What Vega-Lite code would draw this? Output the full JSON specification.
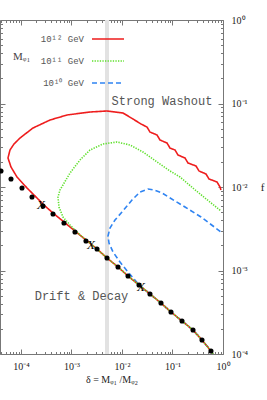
{
  "$schema": "https://vega.github.io/schema/vega-lite/v6.json",
  "width": 223,
  "height": 334,
  "autosize": {"type": "none"},
  "padding": {"left": 0, "top": 20, "right": 44, "bottom": 46},
  "background": "white",
  "config": {
    "view": {"stroke": null},
    "axis": {"grid": false, "domainColor": "#777", "tickColor": "#777", "labelFont": "Liberation Serif", "labelFontSize": 10, "labelColor": "#222", "titleFont": "Liberation Serif", "titleFontWeight": "normal", "titleColor": "#222", "labelOverlap": false, "labelFlush": false, "labelBound": false}
  },
  "datasets": {
    "curves": [
      {"series": "10¹⁰ GeV", "i": 1, "d": 0.634, "f": 0.0001},
      {"series": "10¹⁰ GeV", "i": 2, "d": 0.578, "f": 0.0001086},
      {"series": "10¹⁰ GeV", "i": 3, "d": 0.3837, "f": 0.0001471},
      {"series": "10¹⁰ GeV", "i": 4, "d": 0.2547, "f": 0.0001938},
      {"series": "10¹⁰ GeV", "i": 5, "d": 0.1542, "f": 0.0002484},
      {"series": "10¹⁰ GeV", "i": 6, "d": 0.0933, "f": 0.0003184},
      {"series": "10¹⁰ GeV", "i": 7, "d": 0.05916, "f": 0.0004082},
      {"series": "10¹⁰ GeV", "i": 8, "d": 0.03581, "f": 0.0005231},
      {"series": "10¹⁰ GeV", "i": 9, "d": 0.02173, "f": 0.0006705},
      {"series": "10¹⁰ GeV", "i": 10, "d": 0.01728, "f": 0.0007911},
      {"series": "10¹⁰ GeV", "i": 11, "d": 0.01315, "f": 0.0009594},
      {"series": "10¹⁰ GeV", "i": 12, "d": 0.00913, "f": 0.001264},
      {"series": "10¹⁰ GeV", "i": 13, "d": 0.006635, "f": 0.001666},
      {"series": "10¹⁰ GeV", "i": 14, "d": 0.005529, "f": 0.002135},
      {"series": "10¹⁰ GeV", "i": 15, "d": 0.005283, "f": 0.002589},
      {"series": "10¹⁰ GeV", "i": 16, "d": 0.005786, "f": 0.003228},
      {"series": "10¹⁰ GeV", "i": 17, "d": 0.007266, "f": 0.004025},
      {"series": "10¹⁰ GeV", "i": 18, "d": 0.01, "f": 0.005018},
      {"series": "10¹⁰ GeV", "i": 19, "d": 0.01578, "f": 0.006986},
      {"series": "10¹⁰ GeV", "i": 20, "d": 0.02272, "f": 0.008714},
      {"series": "10¹⁰ GeV", "i": 21, "d": 0.03272, "f": 0.009463},
      {"series": "10¹⁰ GeV", "i": 22, "d": 0.04302, "f": 0.009207},
      {"series": "10¹⁰ GeV", "i": 23, "d": 0.06195, "f": 0.008477},
      {"series": "10¹⁰ GeV", "i": 24, "d": 0.1121, "f": 0.006796},
      {"series": "10¹⁰ GeV", "i": 25, "d": 0.1768, "f": 0.005761},
      {"series": "10¹⁰ GeV", "i": 26, "d": 0.3668, "f": 0.004372},
      {"series": "10¹⁰ GeV", "i": 27, "d": 0.913, "f": 0.002891},

      {"series": "10¹² GeV", "i": 1, "d": 0.634, "f": 0.0001},
      {"series": "10¹² GeV", "i": 2, "d": 0.578, "f": 0.0001086},
      {"series": "10¹² GeV", "i": 3, "d": 0.3837, "f": 0.0001471},
      {"series": "10¹² GeV", "i": 4, "d": 0.2547, "f": 0.0001938},
      {"series": "10¹² GeV", "i": 5, "d": 0.1542, "f": 0.0002484},
      {"series": "10¹² GeV", "i": 6, "d": 0.0933, "f": 0.0003184},
      {"series": "10¹² GeV", "i": 7, "d": 0.05916, "f": 0.0004082},
      {"series": "10¹² GeV", "i": 8, "d": 0.03581, "f": 0.0005231},
      {"series": "10¹² GeV", "i": 9, "d": 0.02173, "f": 0.0006705},
      {"series": "10¹² GeV", "i": 10, "d": 0.01315, "f": 0.0008594},
      {"series": "10¹² GeV", "i": 11, "d": 0.008337, "f": 0.001102},
      {"series": "10¹² GeV", "i": 12, "d": 0.005047, "f": 0.001411},
      {"series": "10¹² GeV", "i": 13, "d": 0.003199, "f": 0.001809},
      {"series": "10¹² GeV", "i": 14, "d": 0.001936, "f": 0.002319},
      {"series": "10¹² GeV", "i": 15, "d": 0.001172, "f": 0.002972},
      {"series": "10¹² GeV", "i": 16, "d": 0.00071, "f": 0.003809},
      {"series": "10¹² GeV", "i": 17, "d": 0.0004305, "f": 0.004882},
      {"series": "10¹² GeV", "i": 18, "d": 0.0002988, "f": 0.005922},
      {"series": "10¹² GeV", "i": 19, "d": 0.0002074, "f": 0.007383},
      {"series": "10¹² GeV", "i": 20, "d": 0.0001315, "f": 0.00973},
      {"series": "10¹² GeV", "i": 21, "d": 0.00008333, "f": 0.01318},
      {"series": "10¹² GeV", "i": 22, "d": 0.0000634, "f": 0.01736},
      {"series": "10¹² GeV", "i": 23, "d": 0.00005529, "f": 0.02225},
      {"series": "10¹² GeV", "i": 24, "d": 0.00006056, "f": 0.02774},
      {"series": "10¹² GeV", "i": 25, "d": 0.00007266, "f": 0.03273},
      {"series": "10¹² GeV", "i": 26, "d": 0.00009555, "f": 0.03862},
      {"series": "10¹² GeV", "i": 27, "d": 0.0001728, "f": 0.05088},
      {"series": "10¹² GeV", "i": 28, "d": 0.0003752, "f": 0.06344},
      {"series": "10¹² GeV", "i": 29, "d": 0.0008146, "f": 0.07283},
      {"series": "10¹² GeV", "i": 30, "d": 0.002324, "f": 0.07911},
      {"series": "10¹² GeV", "i": 31, "d": 0.005047, "f": 0.08133},
      {"series": "10¹² GeV", "i": 32, "d": 0.01047, "f": 0.07695},
      {"series": "10¹² GeV", "i": 33, "d": 0.01651, "f": 0.06522},
      {"series": "10¹² GeV", "i": 34, "d": 0.02377, "f": 0.05681},
      {"series": "10¹² GeV", "i": 35, "d": 0.03126, "f": 0.0523},
      {"series": "10¹² GeV", "i": 36, "d": 0.03581, "f": 0.04557},
      {"series": "10¹² GeV", "i": 37, "d": 0.04934, "f": 0.04196},
      {"series": "10¹² GeV", "i": 38, "d": 0.05655, "f": 0.03655},
      {"series": "10¹² GeV", "i": 39, "d": 0.07782, "f": 0.03365},
      {"series": "10¹² GeV", "i": 40, "d": 0.08923, "f": 0.02931},
      {"series": "10¹² GeV", "i": 41, "d": 0.1121, "f": 0.02774},
      {"series": "10¹² GeV", "i": 42, "d": 0.1285, "f": 0.02416},
      {"series": "10¹² GeV", "i": 43, "d": 0.1768, "f": 0.02225},
      {"series": "10¹² GeV", "i": 44, "d": 0.2027, "f": 0.01939},
      {"series": "10¹² GeV", "i": 45, "d": 0.292, "f": 0.01785},
      {"series": "10¹² GeV", "i": 46, "d": 0.3348, "f": 0.01556},
      {"series": "10¹² GeV", "i": 47, "d": 0.4607, "f": 0.01431},
      {"series": "10¹² GeV", "i": 48, "d": 0.5283, "f": 0.01247},
      {"series": "10¹² GeV", "i": 49, "d": 0.7606, "f": 0.01148},
      {"series": "10¹² GeV", "i": 50, "d": 0.8721, "f": 0.01},
      {"series": "10¹² GeV", "i": 51, "d": 0.913, "f": 0.009207},

      {"series": "10¹¹ GeV", "i": 1, "d": 0.634, "f": 0.0001},
      {"series": "10¹¹ GeV", "i": 2, "d": 0.578, "f": 0.0001086},
      {"series": "10¹¹ GeV", "i": 3, "d": 0.3837, "f": 0.0001471},
      {"series": "10¹¹ GeV", "i": 4, "d": 0.2547, "f": 0.0001938},
      {"series": "10¹¹ GeV", "i": 5, "d": 0.1542, "f": 0.0002484},
      {"series": "10¹¹ GeV", "i": 6, "d": 0.0933, "f": 0.0003184},
      {"series": "10¹¹ GeV", "i": 7, "d": 0.05916, "f": 0.0004082},
      {"series": "10¹¹ GeV", "i": 8, "d": 0.03581, "f": 0.0005231},
      {"series": "10¹¹ GeV", "i": 9, "d": 0.02173, "f": 0.0006705},
      {"series": "10¹¹ GeV", "i": 10, "d": 0.01315, "f": 0.0008594},
      {"series": "10¹¹ GeV", "i": 11, "d": 0.008337, "f": 0.001102},
      {"series": "10¹¹ GeV", "i": 12, "d": 0.005047, "f": 0.001411},
      {"series": "10¹¹ GeV", "i": 13, "d": 0.003199, "f": 0.001809},
      {"series": "10¹¹ GeV", "i": 14, "d": 0.001936, "f": 0.002319},
      {"series": "10¹¹ GeV", "i": 15, "d": 0.001345, "f": 0.002812},
      {"series": "10¹¹ GeV", "i": 16, "d": 0.000934, "f": 0.003507},
      {"series": "10¹¹ GeV", "i": 17, "d": 0.0006786, "f": 0.004372},
      {"series": "10¹¹ GeV", "i": 18, "d": 0.0005655, "f": 0.005761},
      {"series": "10¹¹ GeV", "i": 19, "d": 0.0005404, "f": 0.007586},
      {"series": "10¹¹ GeV", "i": 20, "d": 0.0005919, "f": 0.009207},
      {"series": "10¹¹ GeV", "i": 21, "d": 0.0006786, "f": 0.01057},
      {"series": "10¹¹ GeV", "i": 22, "d": 0.000934, "f": 0.01472},
      {"series": "10¹¹ GeV", "i": 23, "d": 0.001473, "f": 0.02106},
      {"series": "10¹¹ GeV", "i": 24, "d": 0.002324, "f": 0.02774},
      {"series": "10¹¹ GeV", "i": 25, "d": 0.004206, "f": 0.03273},
      {"series": "10¹¹ GeV", "i": 26, "d": 0.007962, "f": 0.03459},
      {"series": "10¹¹ GeV", "i": 27, "d": 0.0144, "f": 0.03184},
      {"series": "10¹¹ GeV", "i": 28, "d": 0.02605, "f": 0.02625},
      {"series": "10¹¹ GeV", "i": 29, "d": 0.04934, "f": 0.01993},
      {"series": "10¹¹ GeV", "i": 30, "d": 0.08923, "f": 0.01556},
      {"series": "10¹¹ GeV", "i": 31, "d": 0.1408, "f": 0.01318},
      {"series": "10¹¹ GeV", "i": 32, "d": 0.2666, "f": 0.009463},
      {"series": "10¹¹ GeV", "i": 33, "d": 0.4401, "f": 0.007383},
      {"series": "10¹¹ GeV", "i": 34, "d": 0.913, "f": 0.005159}
    ],
    "dots": [
      {"d": 0.00004018, "f": 0.01556},
      {"d": 0.0000634, "f": 0.01247},
      {"d": 0.0001047, "f": 0.00973},
      {"d": 0.0001652, "f": 0.007586},
      {"d": 0.0002729, "f": 0.005922},
      {"d": 0.0004305, "f": 0.004749},
      {"d": 0.00071, "f": 0.003707},
      {"d": 0.001172, "f": 0.002891},
      {"d": 0.001936, "f": 0.002256},
      {"d": 0.003199, "f": 0.001809},
      {"d": 0.005047, "f": 0.001411},
      {"d": 0.008337, "f": 0.001102},
      {"d": 0.01315, "f": 0.0008594},
      {"d": 0.02173, "f": 0.0006705},
      {"d": 0.03581, "f": 0.0005231},
      {"d": 0.05916, "f": 0.0004082},
      {"d": 0.0933, "f": 0.0003184},
      {"d": 0.1542, "f": 0.0002484},
      {"d": 0.2547, "f": 0.0001938},
      {"d": 0.3837, "f": 0.0001471},
      {"d": 0.578, "f": 0.0001086}
    ],
    "crosses": [
      {"d": 0.0002489, "f": 0.006086},
      {"d": 0.002432, "f": 0.00202},
      {"d": 0.02377, "f": 0.0006345}
    ],
    "notes": [
      {"d": 0.0619, "f": 0.1072, "label": "Strong Washout"},
      {"d": 0.001578, "f": 0.000495, "label": "Drift & Decay"}
    ],
    "mlabel": [
      {"d": 0.0000695, "f": 0.3606, "label": "Mᵩ₁"}
    ],
    "band": [
      {"d": 0.00505}
    ]
  },
  "resolve": {"axis": {"x": "independent", "y": "independent"}},
  "layer": [
    {
      "data": {"name": "band"},
      "mark": {"type": "rule", "color": "#e2e2e2", "strokeWidth": 4},
      "encoding": {
        "x": {"field": "d", "type": "quantitative", "scale": {"type": "log", "domain": [0.0000384, 1], "nice": false}, "axis": null}
      }
    },
    {
      "data": {"name": "curves"},
      "mark": {"type": "line", "strokeWidth": 1.6, "clip": true},
      "encoding": {
        "x": {"field": "d", "type": "quantitative", "scale": {"type": "log", "domain": [0.0000384, 1], "nice": false},
          "axis": {"orient": "bottom",
            "values": [0.00004,0.00005,0.00006,0.00007,0.00008,0.00009,0.0001,0.0002,0.0003,0.0004,0.0005,0.0006,0.0007,0.0008,0.0009,0.001,0.002,0.003,0.004,0.005,0.006,0.007,0.008,0.009,0.01,0.02,0.03,0.04,0.05,0.06,0.07,0.08,0.09,0.1,0.2,0.3,0.4,0.5,0.6,0.7,0.8,0.9,1],
            "labelExpr": "datum.value == 0.0001 ? '10⁻⁴' : datum.value == 0.001 ? '10⁻³' : datum.value == 0.01 ? '10⁻²' : datum.value == 0.1 ? '10⁻¹' : datum.value == 1 ? '10⁰' : ''",
            "tickSize": {"condition": {"test": "indexof([0.0001,0.001,0.01,0.1,1], datum.value) >= 0", "value": -5}, "value": -2.5},
            "labelPadding": 12,
            "title": "δ = Mᵩ₁ /Mᵩ₂", "titleFontSize": 10, "titlePadding": 1}},
        "y": {"field": "f", "type": "quantitative", "scale": {"type": "log", "domain": [0.0001, 1], "nice": false},
          "axis": {"orient": "left",
            "values": [0.0001,0.0002,0.0003,0.0004,0.0005,0.0006,0.0007,0.0008,0.0009,0.001,0.002,0.003,0.004,0.005,0.006,0.007,0.008,0.009,0.01,0.02,0.03,0.04,0.05,0.06,0.07,0.08,0.09,0.1,0.2,0.3,0.4,0.5,0.6,0.7,0.8,0.9,1],
            "labels": false,
            "tickSize": {"condition": {"test": "indexof([0.0001,0.001,0.01,0.1,1], datum.value) >= 0", "value": -5}, "value": -2.5},
            "title": null}},
        "color": {"field": "series", "type": "nominal",
          "scale": {"domain": ["10¹² GeV", "10¹¹ GeV", "10¹⁰ GeV"], "range": ["#ee1d1d", "#5fe02c", "#2f84f2"]},
          "legend": {"orient": "none", "legendX": 91, "legendY": 2, "title": null, "symbolType": "stroke", "symbolSize": 1024, "symbolStrokeWidth": 1.5, "labelAlign": "right", "labelOffset": -41, "labelFont": "Liberation Mono", "labelFontSize": 9, "labelColor": "#555", "rowPadding": -4.5}},
        "strokeDash": {"field": "series", "type": "nominal",
          "scale": {"domain": ["10¹² GeV", "10¹¹ GeV", "10¹⁰ GeV"], "range": [[1, 0], [1.3, 1.3], [5, 3]]},
          "legend": {"orient": "none", "legendX": 91, "legendY": 2, "title": null, "symbolType": "stroke", "symbolSize": 1024, "symbolStrokeWidth": 1.5, "labelAlign": "right", "labelOffset": -41, "labelFont": "Liberation Mono", "labelFontSize": 9, "labelColor": "#555", "rowPadding": -4.5}},
        "order": {"field": "i", "type": "quantitative"}
      }
    },
    {
      "data": {"name": "dots"},
      "mark": {"type": "point", "filled": true, "color": "#000", "size": 26, "opacity": 1},
      "encoding": {
        "x": {"field": "d", "type": "quantitative", "scale": {"type": "log", "domain": [0.0000384, 1], "nice": false},
          "axis": {"orient": "top",
            "values": [0.00004,0.00005,0.00006,0.00007,0.00008,0.00009,0.0001,0.0002,0.0003,0.0004,0.0005,0.0006,0.0007,0.0008,0.0009,0.001,0.002,0.003,0.004,0.005,0.006,0.007,0.008,0.009,0.01,0.02,0.03,0.04,0.05,0.06,0.07,0.08,0.09,0.1,0.2,0.3,0.4,0.5,0.6,0.7,0.8,0.9,1],
            "labels": false,
            "tickSize": {"condition": {"test": "indexof([0.0001,0.001,0.01,0.1,1], datum.value) >= 0", "value": -5}, "value": -2.5},
            "title": null}},
        "y": {"field": "f", "type": "quantitative", "scale": {"type": "log", "domain": [0.0001, 1], "nice": false},
          "axis": {"orient": "right",
            "values": [0.0001,0.0002,0.0003,0.0004,0.0005,0.0006,0.0007,0.0008,0.0009,0.001,0.002,0.003,0.004,0.005,0.006,0.007,0.008,0.009,0.01,0.02,0.03,0.04,0.05,0.06,0.07,0.08,0.09,0.1,0.2,0.3,0.4,0.5,0.6,0.7,0.8,0.9,1],
            "labelExpr": "datum.value == 0.0001 ? '10⁻⁴' : datum.value == 0.001 ? '10⁻³' : datum.value == 0.01 ? '10⁻²' : datum.value == 0.1 ? '10⁻¹' : datum.value == 1 ? '10⁰' : ''",
            "tickSize": {"condition": {"test": "indexof([0.0001,0.001,0.01,0.1,1], datum.value) >= 0", "value": -5}, "value": -2.5},
            "labelPadding": 13, "labelAlign": "left",
            "title": "f", "titleAngle": 0, "titleX": 39, "titleY": 167, "titleAlign": "center", "titleBaseline": "middle", "titleFontSize": 11}}
      }
    },
    {
      "data": {"name": "crosses"},
      "mark": {"type": "text", "text": "X", "font": "Liberation Serif", "fontStyle": "italic", "fontSize": 13, "color": "#000", "align": "center", "baseline": "middle"},
      "encoding": {
        "x": {"field": "d", "type": "quantitative", "scale": {"type": "log", "domain": [0.0000384, 1], "nice": false}, "axis": null},
        "y": {"field": "f", "type": "quantitative", "scale": {"type": "log", "domain": [0.0001, 1], "nice": false}, "axis": null}
      }
    },
    {
      "data": {"name": "notes"},
      "mark": {"type": "text", "font": "Liberation Mono", "fontSize": 12, "color": "#555", "align": "center", "baseline": "middle"},
      "encoding": {
        "x": {"field": "d", "type": "quantitative", "scale": {"type": "log", "domain": [0.0000384, 1], "nice": false}, "axis": null},
        "y": {"field": "f", "type": "quantitative", "scale": {"type": "log", "domain": [0.0001, 1], "nice": false}, "axis": null},
        "text": {"field": "label"}
      }
    },
    {
      "data": {"name": "mlabel"},
      "mark": {"type": "text", "font": "Liberation Serif", "fontSize": 11, "color": "#444", "align": "left", "baseline": "middle"},
      "encoding": {
        "x": {"field": "d", "type": "quantitative", "scale": {"type": "log", "domain": [0.0000384, 1], "nice": false}, "axis": null},
        "y": {"field": "f", "type": "quantitative", "scale": {"type": "log", "domain": [0.0001, 1], "nice": false}, "axis": null},
        "text": {"field": "label"}
      }
    }
  ]
}
